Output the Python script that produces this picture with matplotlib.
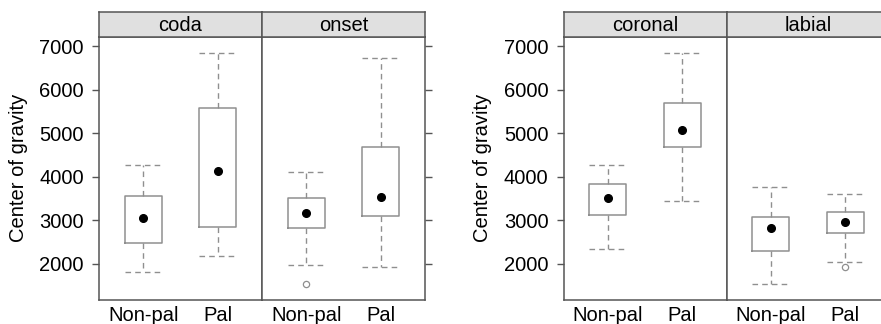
import matplotlib
matplotlib.use("Agg")
import matplotlib.pyplot as plt

plt.rcParams['font.family'] = ['Liberation Sans', 'DejaVu Sans']

categories = ["Non-pal", "Pal"]
y_label = "Center of gravity"
y_ticks = [2000, 3000, 4000, 5000, 6000, 7000]

left_panels = ["coda", "onset"]
right_panels = ["coronal", "labial"]

# per panel: [Non-pal, Pal] -> whislo, q1, median, q3, whishi
coda_lo = [1816, 2175]
coda_q1 = [2484, 2853]
coda_med = [3044, 4134]
coda_q3 = [3558, 5571]
coda_hi = [4265, 6853]
coda_out = [[], []]

onset_lo = [1977, 1922]
onset_q1 = [2829, 3090]
onset_med = [3175, 3528]
onset_q3 = [3521, 4687]
onset_hi = [4120, 6730]
onset_out = [[1539], []]

coronal_lo = [2346, 3436]
coronal_q1 = [3113, 4680]
coronal_med = [3512, 5078]
coronal_q3 = [3843, 5700]
coronal_hi = [4265, 6853]
coronal_out = [[], []]

labial_lo = [1539, 2037]
labial_q1 = [2300, 2714]
labial_med = [2820, 2952]
labial_q3 = [3067, 3189]
labial_hi = [3758, 3613]
labial_out = [[], [1922]]

panel_data = {
    "coda": (coda_lo, coda_q1, coda_med, coda_q3, coda_hi, coda_out),
    "onset": (onset_lo, onset_q1, onset_med, onset_q3, onset_hi, onset_out),
    "coronal": (coronal_lo, coronal_q1, coronal_med, coronal_q3, coronal_hi, coronal_out),
    "labial": (labial_lo, labial_q1, labial_med, labial_q3, labial_hi, labial_out),
}

W, H = 881, 324
fig = plt.figure(figsize=(W / 100, H / 100), dpi=100)

FS = 14.5
frame_col = "#555555"
box_col = "#8f8f8f"
strip_col = "#e0e0e0"

panel_top, panel_bot, strip_top = 37, 299.5, 12
pw = 163

def px_rect(x0, x1, ytop, ybot):
    return [x0 / W, 1 - ybot / H, (x1 - x0) / W, (ybot - ytop) / H]

def draw_panel(x0, name, left_ticks, right_ticks):
    ax = fig.add_axes(px_rect(x0, x0 + pw, panel_top, panel_bot))
    lo, q1, med, q3, hi, out = panel_data[name]
    stats = []
    for i in range(len(categories)):
        stats.append(dict(whislo=lo[i], q1=q1[i], med=med[i], q3=q3[i],
                          whishi=hi[i], fliers=out[i]))
    pos = list(range(1, len(categories) + 1))
    ax.bxp(stats, positions=pos, widths=0.5, capwidths=0.5,
           boxprops=dict(color=box_col, lw=1.1),
           whiskerprops=dict(color=box_col, lw=1.0, linestyle=(0, (4, 3))),
           capprops=dict(color=box_col, lw=1.0, linestyle=(0, (4, 3))),
           medianprops=dict(linestyle='none'),
           flierprops=dict(marker='o', markersize=4.5, markerfacecolor='none',
                           markeredgecolor=box_col, markeredgewidth=0.9))
    ax.plot(pos, med, 'o', color='black', markersize=5.5, zorder=5)
    ax.set_xlim(0.4, 2.6)
    ax.set_ylim(1177, 7214)
    ax.set_xticks(pos)
    ax.set_xticklabels(categories, fontsize=FS)
    ax.set_yticks(y_ticks)
    ax.tick_params(axis='x', length=0, pad=5)
    ax.tick_params(axis='y', length=4.8, width=1.0, color=frame_col, pad=6,
                   labelsize=FS, left=left_ticks, labelleft=left_ticks,
                   right=right_ticks, labelright=False)
    for s in ax.spines.values():
        s.set_color(frame_col)
        s.set_linewidth(1.1)
    # strip
    sx = fig.add_axes(px_rect(x0, x0 + pw, strip_top, panel_top))
    sx.set_facecolor(strip_col)
    sx.set_xticks([])
    sx.set_yticks([])
    for s in sx.spines.values():
        s.set_color(frame_col)
        s.set_linewidth(1.1)
    sx.text(0.5, 0.45, name, ha='center', va='center', fontsize=FS,
            transform=sx.transAxes)
    return ax

draw_panel(99, left_panels[0], True, False)
draw_panel(99 + pw, left_panels[1], False, True)
fig.text(19 / W, 1 - 168 / H, y_label, rotation=90, ha='center', va='center',
         fontsize=FS)

draw_panel(563.5, right_panels[0], True, False)
draw_panel(563.5 + pw, right_panels[1], False, True)
fig.text(483 / W, 1 - 168 / H, y_label, rotation=90, ha='center', va='center',
         fontsize=FS)

fig.savefig("out.png", dpi=100)
